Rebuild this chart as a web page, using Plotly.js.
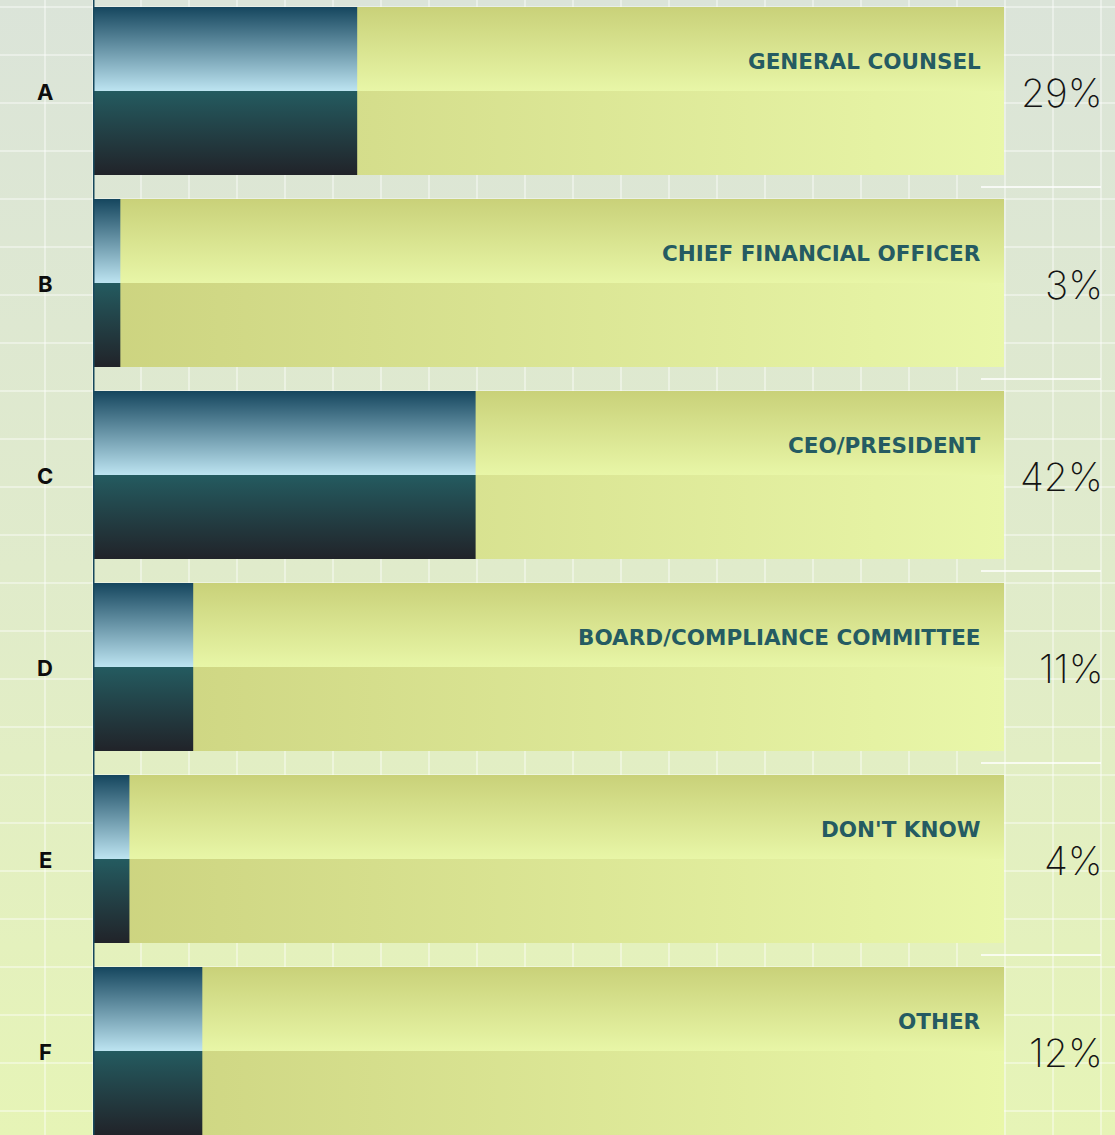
<!DOCTYPE html>
<html><head><meta charset="utf-8">
<script src="https://cdn.plot.ly/plotly-3.0.1.min.js"></script>
<style>
html,body{margin:0;padding:0;}
#chart{width:1115px;height:1135px;background:linear-gradient(to bottom,#dbe4d9 0%,#e0ebcb 50%,#e6f4b6 100%);}
</style></head><body><div id="chart"></div>
<script>
// ---- data ----
const letters = ['A','B','C','D','E','F'];
const roles = ['GENERAL COUNSEL','CHIEF FINANCIAL OFFICER','CEO/PRESIDENT','BOARD/COMPLIANCE COMMITTEE',"DON'T KNOW",'OTHER'];
const shares = [29, 3, 42, 11, 4, 12];
const pctLabels = ['29%','3%','42%','11%','4%','12%'];
const trackMax = 100;

// ---- layout constants ----
const W = 1115, H = 1135;
const HALF = 0.4375;           // half bar thickness in category units
const x0px = 93, x1px = 1004;  // bar track pixel span

const traces = [];
// empty trace so the full-page grid subplot exists
traces.push({type:'scatter', x:[], y:[], xaxis:'x', yaxis:'y', hoverinfo:'skip', showlegend:false});

function rect(xa, xb, ya, yb, grad){
  return {
    type:'scatter', mode:'lines', xaxis:'x2', yaxis:'y2',
    x:[xa, xb, xb, xa, xa], y:[ya, ya, yb, yb, ya],
    fill:'toself', line:{width:0, color:'rgba(0,0,0,0)'},
    fillgradient:grad, hoverinfo:'skip', showlegend:false
  };
}

letters.forEach((c, i) => {
  const v = shares[i];
  // light track, upper half (vertical gradient)
  traces.push(rect(0, trackMax, i - HALF, i, {type:'vertical', start:i - HALF, stop:i,
    colorscale:[[0,'#c9d179'],[1,'#e8f6a7']]}));
  // light track, lower half (horizontal gradient)
  traces.push(rect(0, trackMax, i, i + HALF, {type:'horizontal', start:0, stop:trackMax,
    colorscale:[[0,'#ccd37f'],[1,'#e9f7a9']]}));
  // value bar, upper half
  traces.push(rect(0, v, i - HALF, i, {type:'vertical', start:i - HALF, stop:i,
    colorscale:[[0,'#15465e'],[1,'#bde4f1']]}));
  // value bar, lower half
  traces.push(rect(0, v, i, i + HALF, {type:'vertical', start:i, stop:i + HALF,
    colorscale:[[0,'#245b60'],[1,'#212329']]}));
});

const annotations = [];
letters.forEach((c, i) => {
  annotations.push({xref:'paper', x:45/W, yref:'y2', y:i, yshift:-1, text:c, showarrow:false,
    xanchor:'center', yanchor:'middle', font:{family:'Inter', size:22, weight:700, color:'#0d0d0d'}});
  annotations.push({xref:'x2', x:trackMax, xshift:-21, yref:'y2', y:i, yshift:30, text:roles[i], showarrow:false,
    xanchor:'right', yanchor:'middle', font:{family:'DejaVu Sans', size:21.5, weight:700, color:'#255b62'}});
  annotations.push({xref:'x2', x:trackMax, xshift:101, yref:'y2', y:i, yshift:-1, text:pctLabels[i], showarrow:false,
    xanchor:'right', yanchor:'middle', font:{family:'Inter', size:39, weight:200, color:'#141414'}});
});

const shapes = [];
for (let i = 0; i < letters.length - 1; i++) {
  shapes.push({type:'line', xref:'paper', x0:981/W, x1:1101/W, yref:'y2', y0:i + 0.5, y1:i + 0.5,
    line:{color:'rgba(255,255,255,0.75)', width:2}});
}
shapes.push({type:'line', xref:'x2', x0:0, x1:0, yref:'paper', y0:0, y1:1,
  line:{color:'#17485c', width:3}, layer:'above'});

// y range so that row i is centered at pixel 91 + 192 i
const pitch = 192, firstCenter = 91;
const yTop = -firstCenter / pitch, yBot = (H - firstCenter) / pitch;

const layout = {
  width:W, height:H, margin:{l:0, r:0, t:0, b:0},
  paper_bgcolor:'rgba(0,0,0,0)', plot_bgcolor:'rgba(0,0,0,0)',
  showlegend:false,
  xaxis:{domain:[0,1], range:[0,W], tick0:45, dtick:48, showgrid:true, gridcolor:'rgba(255,255,255,0.4)', gridwidth:2,
    zeroline:false, showticklabels:false, ticks:'', fixedrange:true},
  yaxis:{domain:[0,1], range:[H,0], tick0:7, dtick:48, showgrid:true, gridcolor:'rgba(255,255,255,0.4)', gridwidth:2,
    zeroline:false, showticklabels:false, ticks:'', fixedrange:true},
  xaxis2:{domain:[x0px/W, x1px/W], range:[0, trackMax], anchor:'y2', showgrid:false, zeroline:false,
    showticklabels:false, ticks:'', showline:false, fixedrange:true},
  yaxis2:{domain:[0,1], range:[yBot, yTop], anchor:'x2', showgrid:false, zeroline:false,
    showticklabels:false, ticks:'', showline:false, fixedrange:true},
  annotations, shapes
};

Plotly.newPlot('chart', traces, layout, {displayModeBar:false, staticPlot:true});
</script></body></html>
